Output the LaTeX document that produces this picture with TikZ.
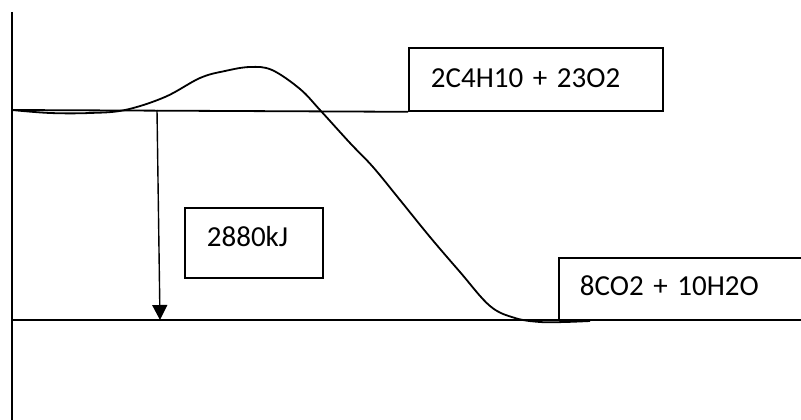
\documentclass[tikz,border=0pt]{standalone}
\usepackage{fontspec}
\setmainfont{Carlito}
\usetikzlibrary{arrows.meta}
\begin{document}
\begin{tikzpicture}[x=1pt,y=-1pt,line width=1.8pt,
  lbl/.style={draw,rectangle,anchor=north west,inner ysep=0pt,align=left,
     font=\fontsize{29}{34}\selectfont}]
\useasboundingbox (0,0) rectangle (801,420);
% axis
\coordinate (ax1) at (12,12);
\coordinate (ax2) at (12,420);
\draw (ax1) -- (ax2);
% boxes
\node[lbl,text width=210pt,inner xsep=22pt,text height=40pt,text depth=23pt] (react) at (408,47) {2C4H10 + 23O2};
\node[lbl,text width=94pt,inner xsep=22pt,text height=39pt,text depth=31pt] (dh) at (184,207) {2880kJ};
\node[lbl,text width=206pt,inner xsep=21pt,text height=38pt,text depth=24pt] (prod) at (558,257) {8CO2 + 10H2O};
% levels
\coordinate (u1) at (12,110);
\coordinate (l1) at (12,320);
\coordinate (l2) at (801,320);
\draw (u1) -- (react.south west);
\draw (l1) -- (l2);
% arrow
\coordinate (a1) at (157,110);
\coordinate (a2) at (160,320);
\draw[-{Triangle[width=15pt,length=15pt]},line width=1.4pt] (a1) -- (a2);
% curve
\draw plot[smooth,tension=0.6] coordinates {
(12,110) (50,113) (90,113) (125,110) (165,97) (200,78) (225,71) (250,67)
(272,70) (300,89) (320,110) (350,143) (373,167) (400,200) (430,237)
(460,272) (490,306) (515,318) (540,322) (565,322) (590,321)};
\end{tikzpicture}
\end{document}
